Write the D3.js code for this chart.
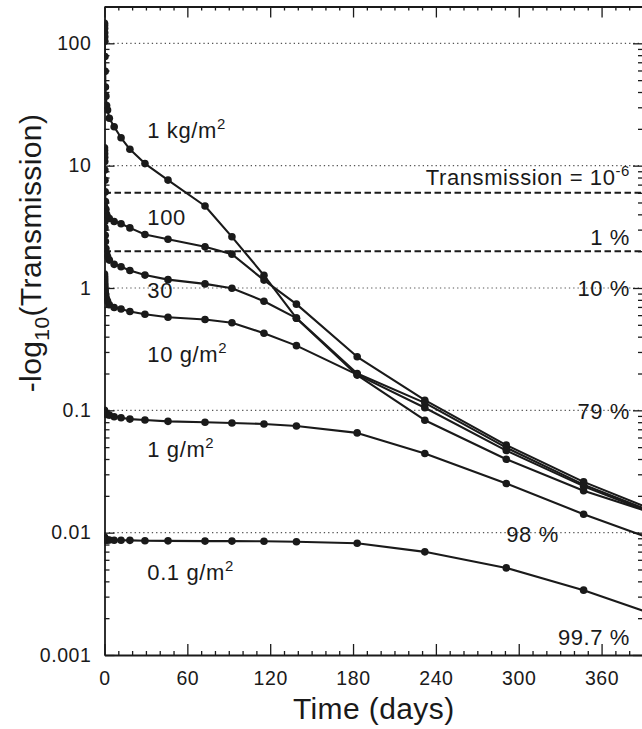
<!DOCTYPE html>
<html>
<head>
<meta charset="utf-8">
<script src="https://cdn.jsdelivr.net/npm/d3@7"></script>
<style>
  html, body { margin: 0; padding: 0; background: #fff; }
  svg { display: block; font-family: "Liberation Sans", Arial, Helvetica, sans-serif; }
</style>
</head>
<body>
<svg id="chart" width="642" height="729"></svg>
<script>
// ---------------- data ----------------
const days = [0, 0.04, 0.08, 0.12, 0.17, 0.25, 0.33, 0.5, 0.67, 1, 1.5, 2.2, 3.5, 7, 12, 18.4, 29.3, 46, 72.8, 92.3, 115.5, 139, 183, 232, 291, 347, 420];

const load1kg = [146, 140, 132, 122, 113, 104, 78, 59, 44, 37, 31, 28.5, 24.4, 20.8, 16.9, 13.6, 10.4, 7.62, 4.68, 2.62, 1.27, 0.567, 0.194, 0.083, 0.0398, 0.022, 0.0119];
const load100 = [14, 13.3, 12.5, 11.7, 10.8, 9.2, 7.6, 6.1, 5.1, 4.4, 4.0, 3.8, 3.7, 3.5, 3.35, 3.1, 2.74, 2.5, 2.17, 1.89, 1.16, 0.738, 0.274, 0.121, 0.052, 0.026, 0.0121];
const load30 = [4.6, 4.4, 4.2, 4.0, 3.8, 3.5, 3.1, 2.7, 2.4, 2.1, 1.9, 1.8, 1.69, 1.56, 1.49, 1.39, 1.275, 1.17, 1.08, 0.995, 0.78, 0.567, 0.2, 0.115, 0.0495, 0.0247, 0.0117];
const load10 = [1.3, 1.25, 1.2, 1.15, 1.1, 1.05, 1.0, 0.95, 0.9, 0.85, 0.81, 0.78, 0.73, 0.693, 0.673, 0.642, 0.61, 0.576, 0.553, 0.52, 0.427, 0.338, 0.196, 0.105, 0.0469, 0.024, 0.0114];
const load1 = [0.1, 0.099, 0.098, 0.097, 0.096, 0.095, 0.095, 0.094, 0.094, 0.093, 0.093, 0.092, 0.0914, 0.0885, 0.0869, 0.0848, 0.0833, 0.0813, 0.0798, 0.0788, 0.0774, 0.0745, 0.0654, 0.0444, 0.0252, 0.01416, 0.0071];
const load01 = [0.0092, 0.0091, 0.009, 0.0089, 0.0089, 0.0088, 0.0088, 0.0088, 0.0088, 0.0087, 0.0087, 0.0087, 0.0087, 0.00868, 0.00866, 0.00865, 0.0086, 0.00857, 0.00853, 0.00853, 0.0085, 0.00843, 0.0082, 0.00697, 0.00515, 0.00339, 0.00176];

const seriesList = [load1kg, load100, load30, load10, load1, load01];

const yMajorTicks = [0.001, 0.01, 0.1, 1, 10, 100];
const yTickLabels = ["0.001", "0.01", "0.1", "1", "10", "100"];
const xMajorTicks = [0, 60, 120, 180, 240, 300, 360];
const xMinorTicks = d3.range(0, 391, 10);

const gridValues = [100, 10, 1, 0.1, 0.01];
const thresholdValues = [6, 2];   // Transmission 1e-6 → 6, 1 % → 2

// curve labels: [text, superscript, day, value at baseline]
const curveLabels = [
  ["1 kg/m", "2", 31, 16.8],
  ["100", "", 31, 3.27],
  ["30", "", 31, 0.822],
  ["10 g/m", "2", 31, 0.249],
  ["1 g/m", "2", 31, 0.0412],
  ["0.1 g/m", "2", 31, 0.00409]
];
// right side labels: [text, superscript, value at baseline]
const rightLabels = [
  ["Transmission = 10", "-6", 6.94],
  ["1 %", "", 2.24],
  ["10 %", "", 0.863],
  ["79 %", "", 0.0847],
  ["99.7 %", "", 0.00121]
];
const midLabel = ["98 %", 310, 0.0084];

// ---------------- layout ----------------
const svg = d3.select("#chart");
const L = 104.5, R = 643, T = 6.5, B = 655;

const x = d3.scaleLinear().domain([0, 390]).range([L, R]);
const y = d3.scaleLog().domain([0.001, 200]).range([B, T]);

const ink = "#1a1a1a";

svg.append("defs").append("clipPath").attr("id", "clip")
  .append("rect").attr("x", L).attr("y", T).attr("width", R - L).attr("height", B - T);

// grid (dotted)
svg.append("g").selectAll("line").data(gridValues).join("line")
  .attr("x1", L).attr("x2", R)
  .attr("y1", d => y(d)).attr("y2", d => y(d))
  .attr("stroke", "#555").attr("stroke-width", 1.1)
  .attr("stroke-dasharray", "1.3,3");

// threshold dashed lines
svg.append("g").selectAll("line").data(thresholdValues).join("line")
  .attr("x1", L).attr("x2", R)
  .attr("y1", d => y(d)).attr("y2", d => y(d))
  .attr("stroke", ink).attr("stroke-width", 2)
  .attr("stroke-dasharray", "6.5,3.5");

// minor log ticks
const yMinor = [];
yMajorTicks.forEach(p => { for (let k = 2; k <= 9; k++) { const v = p * k; if (v <= 200) yMinor.push(v); } });

function styleAxis(g) {
  g.select(".domain").attr("stroke", ink).attr("stroke-width", 1.8);
  g.selectAll(".tick line").attr("stroke", ink).attr("stroke-width", 1.3);
  g.selectAll(".tick text").attr("fill", ink);
}

// left axis
svg.append("g").attr("transform", `translate(${L},0)`)
  .call(d3.axisLeft(y).tickValues(yMajorTicks).tickSize(-10).tickSizeOuter(0).tickPadding(13)
    .tickFormat((d, i) => yTickLabels[i]))
  .call(styleAxis)
  .call(g => g.selectAll(".tick text").attr("font-size", 19.5).attr("font-family", null).attr("letter-spacing", 0.6));
svg.append("g").attr("transform", `translate(${L},0)`)
  .call(d3.axisLeft(y).tickValues(yMinor).tickSize(-5).tickSizeOuter(0).tickFormat(""))
  .call(styleAxis).call(g => g.select(".domain").remove());

// right axis
svg.append("g").attr("transform", `translate(${R},0)`)
  .call(d3.axisRight(y).tickValues(yMajorTicks).tickSize(-10).tickSizeOuter(0).tickFormat(""))
  .call(styleAxis);
svg.append("g").attr("transform", `translate(${R},0)`)
  .call(d3.axisRight(y).tickValues(yMinor).tickSize(-5).tickSizeOuter(0).tickFormat(""))
  .call(styleAxis).call(g => g.select(".domain").remove());

// bottom axis
svg.append("g").attr("transform", `translate(0,${B})`)
  .call(d3.axisBottom(x).tickValues(xMajorTicks).tickSize(-11).tickSizeOuter(0).tickPadding(16)
    .tickFormat(d3.format("d")))
  .call(styleAxis)
  .call(g => g.selectAll(".tick text").attr("font-size", 19.5).attr("font-family", null).attr("letter-spacing", 0.6));
svg.append("g").attr("transform", `translate(0,${B})`)
  .call(d3.axisBottom(x).tickValues(xMinorTicks.filter(d => d % 60 !== 0)).tickSize(-4).tickSizeOuter(0).tickFormat(""))
  .call(styleAxis).call(g => g.select(".domain").remove());

// top axis
svg.append("g").attr("transform", `translate(0,${T})`)
  .call(d3.axisTop(x).tickValues(xMajorTicks).tickSize(-11).tickSizeOuter(0).tickFormat(""))
  .call(styleAxis);
svg.append("g").attr("transform", `translate(0,${T})`)
  .call(d3.axisTop(x).tickValues(xMinorTicks.filter(d => d % 60 !== 0)).tickSize(-4).tickSizeOuter(0).tickFormat(""))
  .call(styleAxis).call(g => g.select(".domain").remove());

// series
const line = d3.line().x(d => x(d[0])).y(d => y(d[1]));
const plot = svg.append("g").attr("clip-path", "url(#clip)");
seriesList.forEach(vals => {
  const pts = days.map((d, i) => [d, vals[i]]);
  plot.append("path").datum(pts)
    .attr("d", line).attr("fill", "none")
    .attr("stroke", ink).attr("stroke-width", 2.1).attr("stroke-linejoin", "round");
  plot.append("g").selectAll("circle").data(pts).join("circle")
    .attr("cx", d => x(d[0])).attr("cy", d => y(d[1])).attr("r", 3.8)
    .attr("fill", ink);
});

// labels
function addLabel(g, txt, sup, px, py, anchor, size) {
  const t = g.append("text").attr("x", px).attr("y", py)
    .attr("font-size", size).attr("fill", ink).attr("text-anchor", anchor)
    .attr("letter-spacing", 0.6);
  t.append("tspan").text(txt);
  if (sup) {
    t.append("tspan").attr("dy", -size * 0.42).attr("font-size", size * 0.68).text(sup);
  }
  return t;
}
const lab = svg.append("g");
curveLabels.forEach(([txt, sup, d, v]) => addLabel(lab, txt, sup, x(d), y(v), "start", 22));
rightLabels.forEach(([txt, sup, v]) => addLabel(lab, txt, sup, 630, y(v), "end", 22));
addLabel(lab, midLabel[0], "", x(midLabel[1]), y(midLabel[2]), "middle", 22);

// axis titles
svg.append("text")
  .attr("x", (L + R) / 2).attr("y", 719)
  .attr("text-anchor", "middle").attr("font-size", 30).attr("fill", ink)
  .attr("letter-spacing", 0.4)
  .text("Time (days)");

const yt = svg.append("text")
  .attr("transform", `translate(41,253) rotate(-90)`)
  .attr("text-anchor", "middle").attr("font-size", 30).attr("fill", ink)
  .attr("letter-spacing", 0.4);
yt.append("tspan").text("-log");
yt.append("tspan").attr("dy", 8).attr("font-size", 21).text("10");
yt.append("tspan").attr("dy", -8).text("(Transmission)");
</script>
</body>
</html>
